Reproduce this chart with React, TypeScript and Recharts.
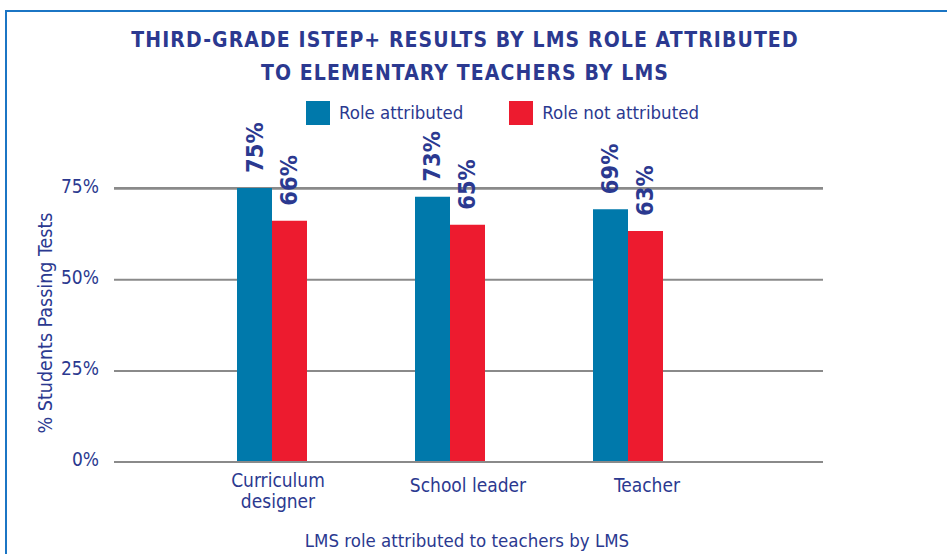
import { BarChart, Bar, XAxis, YAxis, CartesianGrid, LabelList } from 'recharts';

// values (%)
const roles = ['Curriculum\ndesigner', 'School leader', 'Teacher'];
const roleAttributed = [75.2, 72.8, 69.4];
const roleNotAttributed = [66.2, 65.1, 63.4];
const yTicks = [0, 25, 50, 75];
const seriesNames = ['Role attributed', 'Role not attributed'];

const data = roles.map((role, i) => ({
  role,
  attributed: roleAttributed[i],
  notAttributed: roleNotAttributed[i],
}));

const FONT = "'Liberation Sans Narrow', 'DejaVu Sans Condensed', sans-serif";
const NAVY = '#2b3990';
const BLUE = '#0079ab';
const RED = '#ed1b2f';
const GRID = '#8a8a8a';
const colors = [BLUE, RED];
const TXT = 18.5;

// hand-tuned nudges so the labels sit where the original put them
const tickNudge = [6, 18, 19];

const XTick = (props: any) => {
  const { x, y, payload, index } = props;
  const lines = String(payload.value).split('\n');
  const dx = tickNudge[index] ?? 0;
  const first = lines.length > 1 ? y + 17 : y + 22;
  return (
    <text x={x + dx} y={first} textAnchor="middle" fill={NAVY} fontFamily={FONT} fontSize={TXT + 0.5}>
      {lines.map((l, i) => (
        <tspan key={i} x={x + dx} dy={i === 0 ? 0 : 21}>
          {l}
        </tspan>
      ))}
    </text>
  );
};

const YTick = (props: any) => {
  const { x, y, payload } = props;
  return (
    <text x={x} y={y + 4} textAnchor="end" fill={NAVY} fontFamily={FONT} fontSize={TXT + 0.5}>
      {payload.value}%
    </text>
  );
};

const YLabel = (props: any) => {
  const { x, y, height } = props.viewBox;
  const cx = x + 52;
  const cy = y + height / 2 - 2;
  return (
    <text
      x={cx}
      y={cy}
      transform={`rotate(-90, ${cx}, ${cy})`}
      textAnchor="middle"
      fill={NAVY}
      fontFamily={FONT}
      fontSize={TXT + 1}
    >
      % Students Passing Tests
    </text>
  );
};

const ValueLabel = (props: any) => {
  const { x, y, width, value } = props;
  const ax = x + width / 2 + 8;
  const ay = y - 15;
  return (
    <text
      x={ax}
      y={ay}
      transform={`rotate(-90, ${ax}, ${ay})`}
      textAnchor="start"
      fill={NAVY}
      fontFamily={FONT}
      fontWeight="bold"
      fontSize={23.5}
    >
      {Math.round(value)}%
    </text>
  );
};

export default function App() {
  return (
    <div
      style={{
        position: 'absolute',
        left: 0,
        top: 0,
        width: 947,
        height: 554,
        background: '#fff',
        overflow: 'hidden',
        fontFamily: FONT,
      }}
    >
      <div
        style={{
          position: 'absolute',
          left: 5,
          top: 10,
          right: -20,
          bottom: -20,
          borderLeft: '2.5px solid #1b75c4',
          borderTop: '2.5px solid #1b75c4',
        }}
      />
      <div
        style={{
          position: 'absolute',
          left: 0,
          top: 24,
          width: 930,
          textAlign: 'center',
          color: NAVY,
          fontWeight: 'bold',
          fontSize: 21,
          lineHeight: '33px',
          letterSpacing: 1.1,
        }}
      >
        THIRD-GRADE ISTEP+ RESULTS BY LMS ROLE ATTRIBUTED
        <br />
        TO ELEMENTARY TEACHERS BY LMS
      </div>

      <div style={{ position: 'absolute', left: 306, top: 101, display: 'flex', alignItems: 'center' }}>
        {seriesNames.map((name, i) => (
          <div key={name} style={{ display: 'flex', alignItems: 'center', marginRight: 46 }}>
            <div style={{ width: 24, height: 24, background: colors[i], marginRight: 9 }} />
            <span style={{ color: NAVY, fontSize: 18.5, lineHeight: '24px' }}>{name}</span>
          </div>
        ))}
      </div>

      <div style={{ position: 'absolute', left: 0, top: 0 }}>
        <BarChart
          width={947}
          height={554}
          data={data}
          margin={{ top: 188, right: 124, bottom: 62, left: 0 }}
          barSize={35}
          barGap={0}
        >
          <CartesianGrid vertical={false} stroke={GRID} strokeWidth={2} />
          <XAxis
            dataKey="role"
            interval={0}
            height={30}
            tick={<XTick />}
            tickLine={false}
            axisLine={{ stroke: GRID, strokeWidth: 2 }}
            padding={{ left: 69, right: 106 }}
            label={{
              value: 'LMS role attributed to teachers by LMS',
              content: (p: any) => {
                const { viewBox } = p;
                return (
                  <text
                    x={467}
                    y={viewBox.y + 85}
                    textAnchor="middle"
                    fill={NAVY}
                    fontFamily={FONT}
                    fontSize={TXT}
                  >
                    LMS role attributed to teachers by LMS
                  </text>
                );
              },
            }}
          />
          <YAxis
            width={114}
            domain={[0, 75]}
            ticks={yTicks}
            tick={<YTick />}
            tickLine={false}
            axisLine={false}
            tickMargin={9}
            label={{ value: '% Students Passing Tests', content: <YLabel /> }}
          />
          <Bar dataKey="attributed" name={seriesNames[0]} fill={BLUE} isAnimationActive={false}>
            <LabelList dataKey="attributed" content={<ValueLabel />} />
          </Bar>
          <Bar dataKey="notAttributed" name={seriesNames[1]} fill={RED} isAnimationActive={false}>
            <LabelList dataKey="notAttributed" content={<ValueLabel />} />
          </Bar>
        </BarChart>
      </div>
    </div>
  );
}
